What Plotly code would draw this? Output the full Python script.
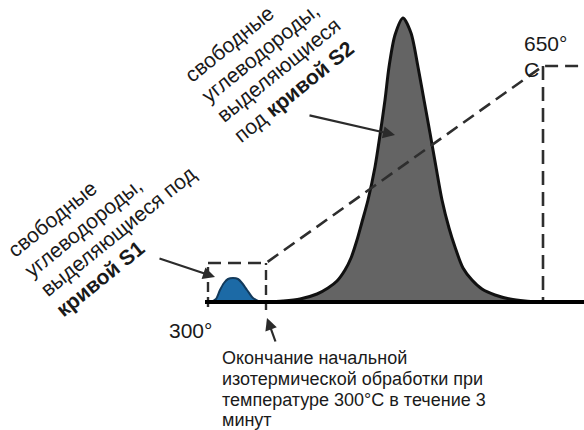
import math
import plotly.graph_objects as go

# Pyrolysis programme: signal vs. time (arbitrary units, baseline = 0)
s1_time = [211, 216, 220, 224, 228, 233, 238, 242, 247, 253, 260]
s1_signal = [0, 3, 12, 19, 23, 24, 23, 19, 12, 4, 0]

s2_time = [265, 283, 300, 317, 328, 337, 345, 351, 357, 362, 368, 375, 380, 385,
           389, 395, 403, 411, 418, 424, 430, 436, 442, 449, 455, 463, 472, 482,
           495, 510, 525, 540]
s2_signal = [0, 1, 3, 8, 14, 21, 32, 44, 62, 80, 102, 135, 167, 202, 235, 267,
             284, 269, 235, 202, 169, 135, 102, 74, 55, 34, 22, 13, 7, 3, 1, 0]

# Oven temperature programme (isothermal hold, ramp, final hold)
temp_time = [208, 266, 543, 584]
temp_level = [39, 39, 236, 236]

baseline_time = [205, 584]
hold_start, hold_end, ramp_end = 208, 266, 543

s1_label = ["свободные", "углеводороды,", "выделяющиеся под", "<b>кривой S1</b>"]
s2_label = ["свободные", "углеводороды,", "выделяющиеся", "под <b>кривой S2</b>"]
bottom_lines = ["Окончание начальной",
                "изотермической обработки при",
                "температуре 300°C в течение 3",
                "минут"]

FONT = "Liberation Sans, Arial, sans-serif"
TXT = "#1a1a1a"
DASH_COL = "#2e2e2e"
Y0 = 302  # top of the plotting frame in signal units

fig = go.Figure()

# S2 peak
fig.add_trace(go.Scatter(
    x=s2_time, y=s2_signal, mode="lines",
    line=dict(color="#111", width=3, shape="spline", smoothing=0.8),
    fill="tozeroy", fillcolor="#646464", hoverinfo="skip"))

# S1 peak
fig.add_trace(go.Scatter(
    x=s1_time, y=s1_signal, mode="lines",
    line=dict(color="#123a5c", width=2, shape="spline", smoothing=0.8),
    fill="tozeroy", fillcolor="#1c6aa6", hoverinfo="skip"))

# temperature programme (dashed)
fig.add_trace(go.Scatter(
    x=temp_time, y=temp_level, mode="lines",
    line=dict(color=DASH_COL, width=2.6, dash="13px,7px"), hoverinfo="skip"))
# isothermal window sides
fig.add_trace(go.Scatter(
    x=[hold_start, hold_start], y=[-5, temp_level[0]], mode="lines",
    line=dict(color=DASH_COL, width=2.4, dash="10px,5px"), hoverinfo="skip"))
fig.add_trace(go.Scatter(
    x=[hold_end, hold_end], y=[-8, temp_level[1]], mode="lines",
    line=dict(color=DASH_COL, width=2.4, dash="10px,5px"), hoverinfo="skip"))
# end of ramp
fig.add_trace(go.Scatter(
    x=[ramp_end, ramp_end], y=[temp_level[2], 0], mode="lines",
    line=dict(color=DASH_COL, width=2.6, dash="14px,7px"), hoverinfo="skip"))

# baseline
fig.add_trace(go.Scatter(
    x=baseline_time, y=[0, 0], mode="lines",
    line=dict(color="#000", width=4), hoverinfo="skip"))

ann = []

# rotated labels: one annotation per line, anchored at the lower-left corner
ANG = 39
LABEL_SIZE = 21
box_h = 24
sin_a, cos_a = math.sin(math.radians(ANG)), math.cos(math.radians(ANG))


def rotated_block(lines, first_start, pitch):
    sx, sy = first_start
    for i, line in enumerate(lines):
        bx = sx + i * pitch * sin_a + 2.5
        by = sy + i * pitch * cos_a + 3
        ann.append(dict(
            x=bx - sin_a * box_h, y=Y0 - by, xref="x", yref="y", showarrow=False,
            textangle=-ANG, text=line, borderpad=0,
            font=dict(family=FONT, size=LABEL_SIZE, color=TXT),
            xanchor="left", yanchor="bottom"))


rotated_block(s1_label, (15, 260), 25.4)
rotated_block(s2_label, (192, 85), 25.6)

ann.append(dict(
    x=522, y=Y0 - 43, xref="x", yref="y", showarrow=False, text="650°",
    font=dict(family=FONT, size=21, color=TXT), xanchor="left", yanchor="middle"))
ann.append(dict(
    x=522, y=Y0 - 69, xref="x", yref="y", showarrow=False, text="C",
    font=dict(family=FONT, size=21, color=TXT), xanchor="left", yanchor="middle"))
ann.append(dict(
    x=190, y=Y0 - 330, xref="x", yref="y", showarrow=False, text="300°",
    font=dict(family=FONT, size=21, color=TXT), xanchor="center", yanchor="middle"))

for i, line in enumerate(bottom_lines):
    ann.append(dict(
        x=221, y=Y0 - 358 - 20.8 * i, xref="x", yref="y", showarrow=False, text=line,
        borderpad=0, font=dict(family=FONT, size=18, color=TXT),
        xanchor="left", yanchor="middle"))

# arrows
for (tx, ty, fx, fy) in [(215, 277, 158, 258), (395, 135, 308, 115), (267, 318, 276, 343)]:
    ann.append(dict(
        x=tx, y=Y0 - ty, ax=fx, ay=Y0 - fy, xref="x", yref="y", axref="x", ayref="y",
        text="", showarrow=True, arrowhead=2, arrowsize=1.1, arrowwidth=2.2,
        arrowcolor="#2b2b2b"))

fig.update_layout(
    width=584, height=430, margin=dict(l=0, r=0, t=0, b=0),
    paper_bgcolor="white", plot_bgcolor="white", showlegend=False,
    xaxis=dict(range=[0, 584], visible=False, fixedrange=True),
    yaxis=dict(range=[Y0 - 430, Y0], visible=False, fixedrange=True),
    annotations=ann)

fig.write_html("out.html")
